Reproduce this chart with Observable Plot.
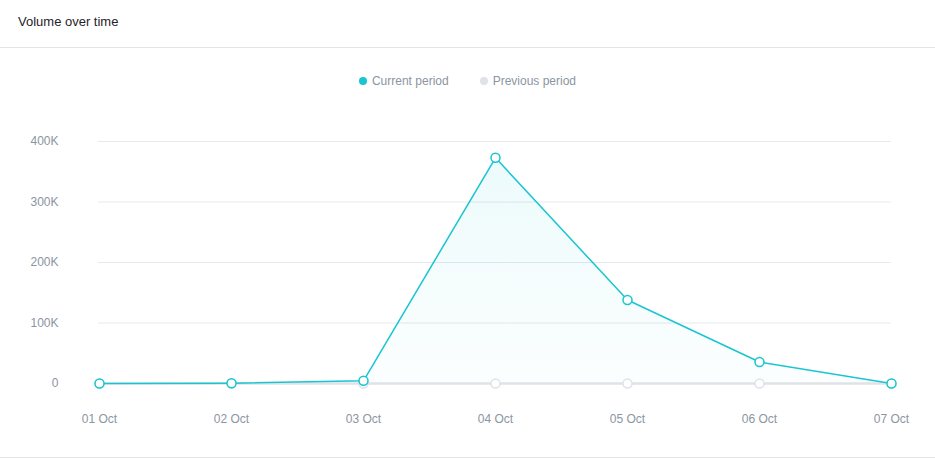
<!DOCTYPE html>
<html>
<head>
<meta charset="utf-8">
<script src="https://cdn.jsdelivr.net/npm/d3@7"></script>
<script src="https://cdn.jsdelivr.net/npm/@observablehq/plot@0.6"></script>
<style>
  html, body { margin: 0; padding: 0; background: #fff; }
  body { width: 935px; height: 459px; overflow: hidden; font-family: "Liberation Sans", Helvetica, Arial, sans-serif; }
  .header { height: 48px; border-bottom: 1px solid #e3e5ea; box-sizing: border-box; position: relative; }
  .title { position: absolute; left: 18px; top: 14px; font-size: 13px; color: #1f2329; }
  .legend { height: 52px; display: flex; justify-content: center; align-items: center; gap: 31px; font-size: 12px; color: #8b95a1; padding-top: 14px; box-sizing: border-box; padding-left: 0px; }
  .legend span { display: inline-flex; align-items: center; }
  .legend i { display: inline-block; width: 8px; height: 8px; border-radius: 50%; margin-right: 5px; }
  #chart { position: relative; }
  .footer { position: absolute; left: 0; top: 457px; width: 935px; border-top: 1px solid #e3e5ea; }
</style>
</head>
<body>
<div class="header"><div class="title">Volume over time</div></div>
<div class="legend">
  <span><i style="background:#19c5d1"></i>Current period</span>
  <span><i style="background:#dfe2e8"></i>Previous period</span>
</div>
<div id="chart"></div>
<div class="footer"></div>
<script>
const dates = ["01 Oct", "02 Oct", "03 Oct", "04 Oct", "05 Oct", "06 Oct", "07 Oct"];
const currentValues = [0, 500, 4500, 373000, 138000, 35500, 0];
const previousValues = [0, 0, 0, 0, 0, 0, 0];
const yTicks = [0, 100000, 200000, 300000, 400000];
const yTickLabels = ["0", "100K", "200K", "300K", "400K"];

const current = dates.map((d, i) => ({date: d, value: currentValues[i]}));
const previous = dates.map((d, i) => ({date: d, value: previousValues[i]}));

const cyan = "#19c5d1";
const gray = "#dfe2e8";

const plot = Plot.plot({
  width: 935,
  height: 357,
  marginLeft: 98,
  marginRight: 44,
  marginTop: 41,
  marginBottom: 74,
  style: {fontFamily: "'Liberation Sans', Helvetica, Arial, sans-serif", fontSize: "12px", color: "#8b95a1", background: "transparent"},
  x: {type: "point", domain: dates, padding: 0},
  y: {domain: [0, 400000]},
  marks: [
    Plot.gridY(yTicks.slice(1), {stroke: "#e6e9ee", strokeOpacity: 1, strokeWidth: 1}),
    Plot.axisY(yTicks, {tickSize: 0, tickPadding: 40, tickFormat: (d) => yTickLabels[yTicks.indexOf(d)], fill: "#8b95a1", fontSize: 12, label: null}),
    Plot.axisX(dates, {tickSize: 0, tickPadding: 31, fill: "#8b95a1", fontSize: 12, label: null}),
    Plot.areaY(current, {x: "date", y: "value", fill: "url(#areaGrad)"}),
    Plot.lineY(previous, {x: "date", y: "value", stroke: gray, strokeWidth: 2.5}),
    Plot.dot(previous, {x: "date", y: "value", r: 4.5, fill: "white", stroke: gray, strokeWidth: 1.5}),
    Plot.lineY(current, {x: "date", y: "value", stroke: cyan, strokeWidth: 1.5}),
    Plot.dot(current, {x: "date", y: "value", r: 4.5, fill: "white", stroke: cyan, strokeWidth: 1.5})
  ]
});

const svg = d3.select(plot);
const defs = svg.insert("defs", ":first-child");
const grad = defs.append("linearGradient").attr("id", "areaGrad").attr("x1", 0).attr("y1", 0).attr("x2", 0).attr("y2", 1);
grad.append("stop").attr("offset", "0%").attr("stop-color", cyan).attr("stop-opacity", 0.08);
grad.append("stop").attr("offset", "100%").attr("stop-color", cyan).attr("stop-opacity", 0.015);

document.getElementById("chart").appendChild(plot);
</script>
</body>
</html>
